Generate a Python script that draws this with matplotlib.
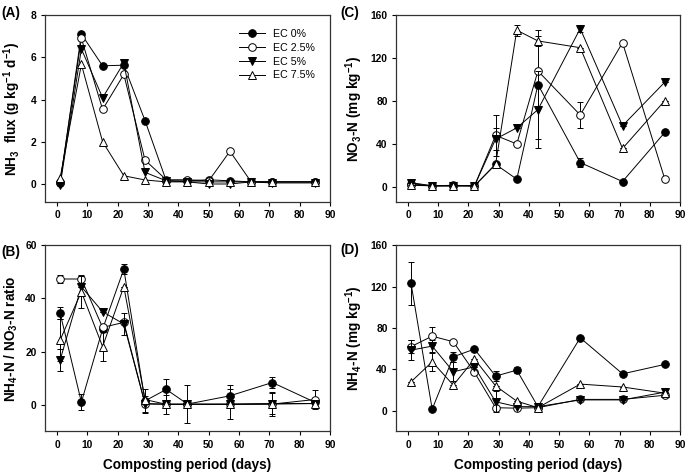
import numpy as np
import matplotlib.pyplot as plt

plt.rcParams['font.family'] = ['Liberation Sans', 'DejaVu Sans']
plt.rcParams['mathtext.fontset'] = 'custom'
plt.rcParams['mathtext.rm'] = 'Liberation Sans:bold'
plt.rcParams['mathtext.bf'] = 'Liberation Sans:bold'
plt.rcParams['mathtext.default'] = 'bf'

labels = ['EC 0%', 'EC 2.5%', 'EC 5%', 'EC 7.5%']

# (A) NH3 flux
days_a = [1, 8, 15, 22, 29, 36, 43, 50, 57, 64, 71, 85]
nh3_flux = [
    [0.05, 7.1, 5.6, 5.63, 3.0, 0.15, 0.15, 0.2, 0.15, 0.1, 0.1, 0.1],
    [0.1, 6.9, 3.53, 5.19, 1.13, 0.2, 0.2, 0.15, 1.55, 0.1, 0.1, 0.1],
    [-0.05, 6.4, 4.09, 5.74, 0.55, 0.15, 0.1, 0.0, 0.0, 0.1, 0.05, 0.05],
    [0.3, 5.67, 2.0, 0.39, 0.19, 0.1, 0.1, 0.1, 0.1, 0.1, 0.1, 0.1],
]

days = [1, 8, 15, 22, 29, 36, 43, 57, 71, 85]

# (B) NH4-N / NO3-N ratio
ratio = [
    [34.4, 1.0, 28.5, 51.0, 1.5, 5.8, 0.3, 3.4, 8.4, 1.0],
    [47.3, 47.3, 29.1, 31.0, 0.5, 0.3, 0.2, 0.2, 0.3, 2.0],
    [16.9, 44.4, 35.0, 30.4, 0.3, 0.2, 0.2, 0.2, 0.3, 0.5],
    [24.4, 42.5, 21.9, 44.4, 2.0, 0.2, 0.3, 0.3, 0.5, 0.5],
]
ratio_err = [
    [2.2, 3.0, 0.0, 2.0, 4.5, 3.8, 0.0, 4.2, 2.0, 0.0],
    [1.5, 1.5, 0.0, 0.0, 0.0, 0.0, 0.0, 0.0, 0.0, 3.5],
    [4.0, 0.0, 0.0, 4.0, 3.0, 0.0, 0.0, 0.0, 4.5, 0.0],
    [8.0, 6.0, 5.6, 0.0, 0.0, 3.5, 7.3, 5.6, 4.0, 0.0],
]

# (C) NO3-N
no3 = [
    [3.0, 1.0, 1.0, 1.0, 21.0, 7.2, 95.4, 22.7, 5.0, 50.8],
    [2.0, 1.0, 1.5, 1.0, 48.0, 40.0, 108.0, 67.0, 134.4, 7.2],
    [4.0, 1.0, 1.0, 1.0, 44.6, 55.0, 72.0, 147.5, 57.0, 97.6],
    [1.5, 1.0, 1.0, 1.0, 21.2, 146.0, 136.0, 129.7, 35.8, 80.4],
]
no3_err = [
    [3.0, 0.0, 0.0, 0.0, 0.0, 0.0, 51.0, 4.0, 0.0, 0.0],
    [0.0, 0.0, 0.0, 0.0, 19.0, 0.0, 0.0, 12.5, 0.0, 0.0],
    [0.0, 0.0, 0.0, 0.0, 10.0, 0.0, 36.0, 3.0, 0.0, 0.0],
    [0.0, 0.0, 0.0, 0.0, 0.0, 5.0, 5.0, 0.0, 0.0, 0.0],
]

# (D) NH4-N
nh4 = [
    [123.0, 1.6, 52.2, 59.6, 33.5, 39.3, 4.0, 70.5, 35.7, 44.8],
    [62.0, 72.1, 66.7, 37.1, 3.0, 2.5, 3.0, 11.0, 11.0, 15.0],
    [58.6, 62.5, 37.7, 42.5, 8.7, 4.0, 4.0, 10.5, 10.5, 18.0],
    [28.0, 47.3, 24.8, 50.0, 24.0, 9.3, 3.0, 25.8, 23.0, 17.0],
]
nh4_err = [
    [21.0, 0.0, 5.0, 0.0, 5.0, 3.0, 0.0, 2.0, 0.0, 0.0],
    [6.0, 9.0, 0.0, 0.0, 0.0, 0.0, 0.0, 0.0, 0.0, 0.0],
    [10.0, 6.0, 9.0, 0.0, 10.0, 0.0, 0.0, 0.0, 0.0, 0.0],
    [0.0, 9.0, 0.0, 0.0, 0.0, 0.0, 0.0, 0.0, 0.0, 0.0],
]

markers = ['o', 'o', 'v', '^']
faces = ['black', 'white', 'black', 'white']


def style_axes(ax, ylim, yticks):
    ax.set_xlim(-4, 90)
    ax.set_ylim(*ylim)
    ax.set_xticks(np.arange(0, 91, 10))
    ax.set_yticks(yticks)
    ax.tick_params(direction='out', length=3, width=0.8, labelsize=7.4, pad=3)
    for lab in ax.get_xticklabels() + ax.get_yticklabels():
        lab.set_fontweight('bold')
    for sp in ax.spines.values():
        sp.set_linewidth(0.9)
        sp.set_color('#333333')


def draw(ax, x, ys, errs=None):
    for i in range(4):
        if errs is not None:
            ax.errorbar(x, ys[i], yerr=errs[i], fmt='none', ecolor='black',
                        elinewidth=0.7, capsize=2.2, capthick=0.7, zorder=2 + i)
        ax.plot(x, ys[i], color='black', lw=0.7, marker=markers[i],
                markersize=5.5, markerfacecolor=faces[i], markeredgecolor='black',
                markeredgewidth=0.7, label=labels[i], zorder=3 + i)


fig = plt.figure(figsize=(6.85, 4.74), dpi=100)
ax_a = fig.add_axes([0.0657, 0.574, 0.416, 0.394])
ax_c = fig.add_axes([0.578, 0.574, 0.4146, 0.394])
ax_b = fig.add_axes([0.0657, 0.0897, 0.416, 0.393])
ax_d = fig.add_axes([0.578, 0.0897, 0.4146, 0.393])

draw(ax_a, days_a, nh3_flux)
style_axes(ax_a, (-0.85, 8), [0, 2, 4, 6, 8])
ax_a.set_ylabel(r'NH$_3$  flux (g kg$^{-1}$ d$^{-1}$)', fontsize=9.8, fontweight='bold', labelpad=6)
ax_a.legend(loc='upper right', frameon=False, fontsize=7.7, handlelength=2.4,
            labelspacing=0.35, bbox_to_anchor=(0.97, 0.96), borderaxespad=0.2)

draw(ax_b, days, ratio, ratio_err)
style_axes(ax_b, (-10, 60), [0, 20, 40, 60])
ax_b.set_ylabel(r'NH$_4$-N / NO$_3$-N ratio', fontsize=9.8, fontweight='bold', labelpad=4)
ax_b.set_xlabel('Composting period (days)', fontsize=9.8, fontweight='bold', labelpad=6)

draw(ax_c, days, no3, no3_err)
style_axes(ax_c, (-14, 160), [0, 40, 80, 120, 160])
ax_c.set_ylabel(r'NO$_3$-N (mg kg$^{-1}$)', fontsize=9.8, fontweight='bold', labelpad=4)

draw(ax_d, days, nh4, nh4_err)
style_axes(ax_d, (-20, 160), [0, 40, 80, 120, 160])
ax_d.set_ylabel(r'NH$_4$-N (mg kg$^{-1}$)', fontsize=9.8, fontweight='bold', labelpad=4)
ax_d.set_xlabel('Composting period (days)', fontsize=9.8, fontweight='bold', labelpad=6)

fig.text(0.002, 0.972, '(A)', fontsize=9.8, fontweight='bold', va='center')
fig.text(0.497, 0.972, '(C)', fontsize=9.8, fontweight='bold', va='center')
fig.text(0.002, 0.468, '(B)', fontsize=9.8, fontweight='bold', va='center')
fig.text(0.497, 0.472, '(D)', fontsize=9.8, fontweight='bold', va='center')

fig.savefig('out.png', dpi=100)
